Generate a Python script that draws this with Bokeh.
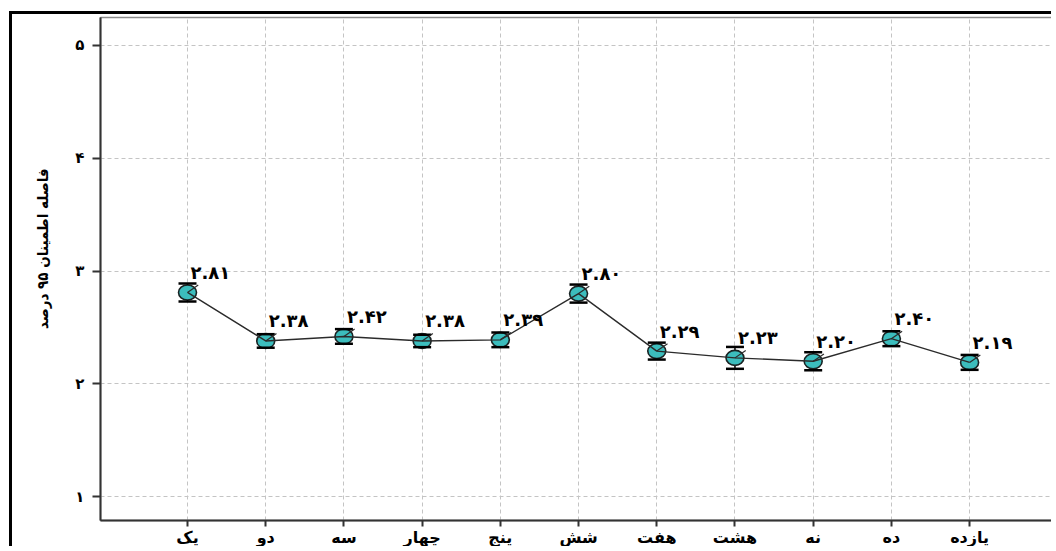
from bokeh.plotting import figure
from bokeh.models import Range1d, FixedTicker, ColumnDataSource
from bokeh.core.properties import value
from bokeh.embed import file_html
from bokeh.resources import INLINE

categories = ["یک", "دو", "سه", "چهار", "پنج", "شش", "هفت", "هشت", "نه", "ده", "یازده"]
means = [2.81, 2.38, 2.42, 2.38, 2.39, 2.80, 2.29, 2.23, 2.20, 2.40, 2.19]
half_ci = [0.08, 0.06, 0.065, 0.055, 0.065, 0.08, 0.075, 0.097, 0.08, 0.066, 0.066]
value_labels = ["۲.۸۱", "۲.۳۸", "۲.۴۲", "۲.۳۸", "۲.۳۹", "۲.۸۰", "۲.۲۹", "۲.۲۳", "۲.۲۰", "۲.۴۰", "۲.۱۹"]
y_ticks = [1, 2, 3, 4, 5]
y_tick_labels = ["۱", "۲", "۳", "۴", "۵"]
y_title = "فاصله اطمینان ۹۵ درصد"

xs = list(range(1, len(categories) + 1))
src = ColumnDataSource(dict(
    x=xs, y=means,
    lo=[m - h for m, h in zip(means, half_ci)],
    hi=[m + h for m, h in zip(means, half_ci)],
    lab=value_labels,
))

p = figure(width=1042, height=535, output_backend="svg", toolbar_location=None,
           x_range=Range1d(-0.1125, 12.06), y_range=Range1d(0.788, 5.248),
           min_border_left=88, min_border_right=2, min_border_top=3, min_border_bottom=28)
p.styles = {"border-top": "3px solid black", "border-left": "3px solid black",
            "margin-top": "11px", "margin-left": "9px"}

p.outline_line_color = "#8a8a8a"
p.outline_line_width = 1.5

# axes
p.xaxis.ticker = FixedTicker(ticks=xs)
p.xaxis.major_label_overrides = {i: c for i, c in zip(xs, categories)}
p.yaxis.ticker = FixedTicker(ticks=y_ticks)
p.yaxis.major_label_overrides = {t: l for t, l in zip(y_ticks, y_tick_labels)}
for ax in (p.xaxis[0], p.yaxis[0]):
    ax.axis_line_color = "#333333"
    ax.axis_line_width = 2
    ax.major_tick_line_color = "#333333"
    ax.major_tick_line_width = 2
    ax.major_tick_in = 0
    ax.major_tick_out = 7
    ax.minor_tick_line_color = None
    ax.major_label_text_color = "black"
    ax.major_label_text_font = "DejaVu Sans"
p.xaxis.major_label_text_font_size = "16px"
p.xaxis.major_label_text_font_style = "bold"
p.xaxis.major_label_standoff = 1
p.xaxis.major_tick_out = 6
p.yaxis.major_label_text_font_size = "15px"
p.yaxis.major_label_text_font_style = "bold"
p.yaxis.major_label_standoff = 8
p.yaxis.major_tick_out = 8
# em spaces at the start shift the vertical title upward, as in the reference
p.yaxis.axis_label = "\u2003\u2003\u2003" + y_title
p.yaxis.axis_label_text_font = "DejaVu Sans Condensed"
p.yaxis.axis_label_text_font_style = "bold"
p.yaxis.axis_label_text_font_size = "15px"
p.yaxis.axis_label_text_color = "black"
p.yaxis.axis_label_standoff = 20

# grids
for g in (p.xgrid[0], p.ygrid[0]):
    g.grid_line_color = "#c4c4c4"
    g.grid_line_dash = "4 3"
    g.grid_line_width = 1

# error bars and means
p.segment(x0="x", y0="lo", x1="x", y1="hi", source=src, line_color="black", line_width=1.5)
p.ellipse(x="x", y="y", width=18, height=15, width_units="screen", height_units="screen",
          source=src, fill_color="#3cbdbd", line_color="#1a2424", line_width=1.6)
p.scatter(x="x", y="lo", marker="dash", size=18, source=src, line_color="black", line_width=2.5)
p.scatter(x="x", y="hi", marker="dash", size=18, source=src, line_color="black", line_width=2.5)
p.line(x="x", y="y", source=src, line_color="#2b2b2b", line_width=1.4)
p.ray(x="x", y="y", length=13, length_units="screen", angle=0.6, source=src,
      line_color="#2b2b2b", line_width=1.2)

p.text(x="x", y="y", text="lab", source=src, x_offset=3, y_offset=-20,
       text_font=value("DejaVu Sans"), text_font_style="bold", text_font_size="18px",
       text_baseline="middle", text_align="left", text_color="black")

open("out.html", "w").write(file_html(p, INLINE))
